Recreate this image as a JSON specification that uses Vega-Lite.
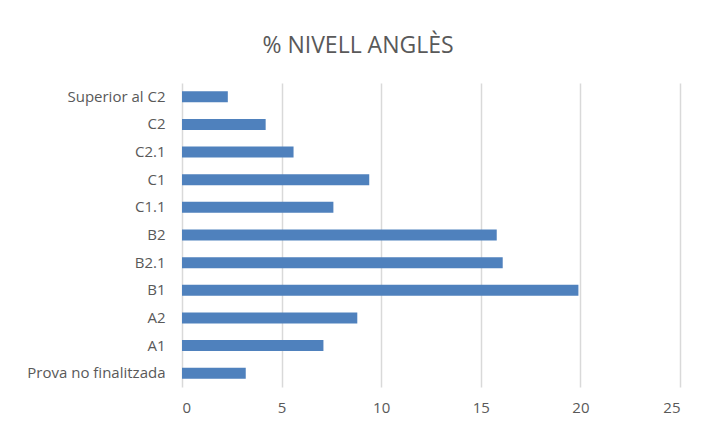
{
  "$schema": "https://vega.github.io/schema/vega-lite/v6.json",
  "autosize": {"type": "none"},
  "width": 498,
  "height": 304,
  "padding": {"left": 182, "top": 83, "right": 23, "bottom": 36},
  "background": "white",
  "title": {
    "text": "% NIVELL ANGLÈS",
    "anchor": "middle",
    "dx": -73,
    "offset": 25,
    "fontSize": 23,
    "font": "Open Sans",
    "fontWeight": "normal",
    "color": "#595959"
  },
  "data": {
    "values": [
      {"nivell": "Superior al C2", "pct": 2.3},
      {"nivell": "C2", "pct": 4.2},
      {"nivell": "C2.1", "pct": 5.6},
      {"nivell": "C1", "pct": 9.4},
      {"nivell": "C1.1", "pct": 7.6},
      {"nivell": "B2", "pct": 15.8},
      {"nivell": "B2.1", "pct": 16.1},
      {"nivell": "B1", "pct": 19.9},
      {"nivell": "A2", "pct": 8.8},
      {"nivell": "A1", "pct": 7.1},
      {"nivell": "Prova no finalitzada", "pct": 3.2}
    ]
  },
  "mark": {"type": "bar", "color": "#4f81bd", "size": 11},
  "encoding": {
    "y": {
      "field": "nivell",
      "type": "nominal",
      "sort": null,
      "title": null,
      "axis": {
        "domain": false,
        "ticks": false,
        "labelPadding": 17,
        "labelFont": "Open Sans",
        "labelFontSize": 15,
        "labelColor": "#595959",
        "labelLimit": 200
      }
    },
    "x": {
      "field": "pct",
      "type": "quantitative",
      "title": null,
      "scale": {"domain": [0, 25], "nice": false},
      "axis": {
        "values": [0, 5, 10, 15, 20, 25],
        "domain": false,
        "ticks": false,
        "grid": true,
        "gridColor": "#d9d9d9",
        "gridWidth": 1.5,
        "labelPadding": 13,
        "labelFont": "Open Sans",
        "labelFontSize": 15,
        "labelColor": "#595959"
      }
    }
  },
  "config": {"view": {"stroke": null}}
}
